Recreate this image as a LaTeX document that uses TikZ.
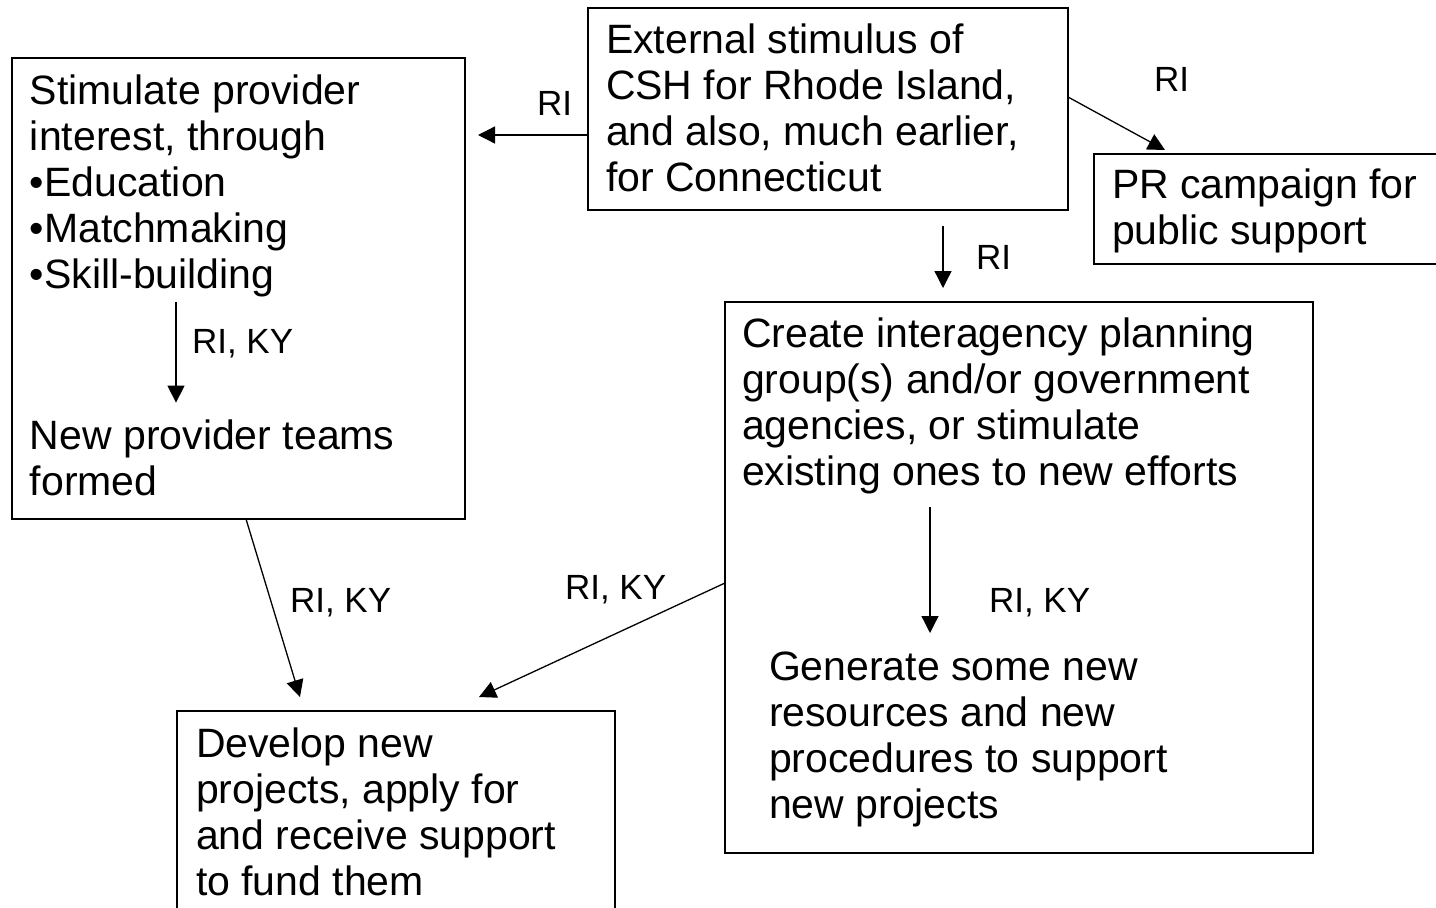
\documentclass[tikz,border=0pt]{standalone}
\usepackage{fontspec}
\setmainfont{Liberation Sans}
\usetikzlibrary{arrows.meta}
\begin{document}
\begin{tikzpicture}[x=1pt,y=-1pt,
  box/.style={draw=black, line width=1.5pt, inner sep=0pt, outer sep=0pt, anchor=north west},
  txt/.style={anchor=north west, inner sep=0pt, outer sep=0pt, align=left, font=\fontsize{41}{46}\selectfont},
  lbl/.style={anchor=base west, inner sep=0pt, outer sep=0pt, font=\fontsize{35}{40}\selectfont},
  arr/.style={-{Triangle[length=17pt,width=17pt]}, line width=1.3pt}]
\useasboundingbox (0,0) rectangle (1436,908);
\fill[white] (0,0) rectangle (1436,908);
\clip (0,0) rectangle (1436,908);
% boxes
\node[box, minimum width=480pt, minimum height=202pt] (T) at (588,8) {};
\node[box, minimum width=453pt, minimum height=461pt] (L) at (12,58) {};
\node[box, minimum width=360pt, minimum height=110pt] (P) at (1094,154) {};
\node[box, minimum width=588pt, minimum height=551pt] (C) at (725,302) {};
\node[box, minimum width=438pt, minimum height=220pt] (B) at (177,711) {};
% texts
\node[txt] (Tt) at (606,24) {External stimulus of\\CSH for Rhode Island,\\and also, much earlier,\\for Connecticut};
\node[txt] (Ls) at (30,75) {Stimulate provider\\interest, through\\•Education\\•Matchmaking\\•Skill-building};
\node[txt] (Ln) at (30,420) {New provider teams\\formed};
\node[txt] (Pt) at (1112,169) {PR campaign for\\public support};
\node[txt] (Cc) at (742,318) {Create interagency planning\\group(s) and/or government\\agencies, or stimulate\\existing ones to new efforts};
\node[txt] (Cg) at (769,652) {Generate some new\\resources and new\\procedures to support\\new projects};
\node[txt] (Bt) at (196,728) {Develop new\\projects, apply for\\and receive support\\to fund them};
% connectors
\coordinate (a2) at (1165,150);
\draw[arr, shorten >=13pt] (T.west |- 0,135) -- (L.east |- 0,135);
\draw[arr] (T.east |- 0,97) -- (a2);
\draw[arr, shorten <=16pt, shorten >=14pt] (T.south -| 943,0) -- (C.north -| 943,0);
\draw[arr, shorten <=5pt, shorten >=17.4pt] (Ls.south -| 176,0) -- (Ln.north -| 176,0);
\draw[arr, shorten >=14.6pt] (L.south -| 246,0) -- (B.north -| 304.2,0);
\draw[arr, shorten >=33.3pt] (C.west |- 0,583) -- (B.north -| 448.8,0);
\draw[arr, shorten <=13pt, shorten >=19pt] (Cc.south -| 930,0) -- (Cg.north -| 930,0);
% labels
\node[lbl] (l1) at (537,115) {RI};
\node[lbl] (l2) at (1154,91) {RI};
\node[lbl] (l3) at (976,269) {RI};
\node[lbl] (l4) at (192,353) {RI, KY};
\node[lbl] (l5) at (290,612) {RI, KY};
\node[lbl] (l6) at (565,599) {RI, KY};
\node[lbl] (l7) at (989,612) {RI, KY};
\end{tikzpicture}
\end{document}
